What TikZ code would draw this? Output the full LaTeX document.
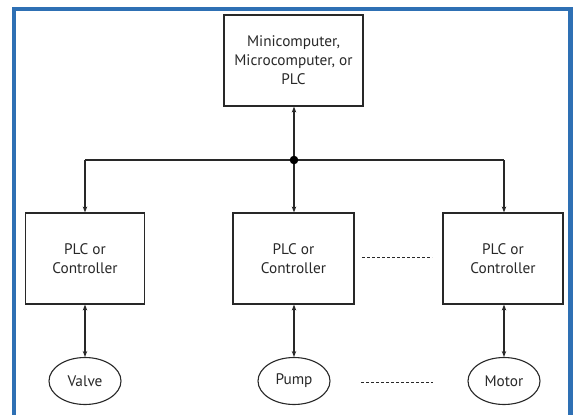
\documentclass[tikz,border=0pt]{standalone}
\usepackage{fontspec}
\setmainfont{PT Sans}
\usetikzlibrary{arrows.meta,shapes.geometric}
\definecolor{frameblue}{RGB}{46,112,180}
\definecolor{ink}{RGB}{40,40,40}
\begin{document}
\begin{tikzpicture}[x=1pt,y=-1pt,
  box/.style={draw=ink,line width=1.2pt,rectangle,inner sep=0pt,align=center,font=\fontsize{15.3}{19}\selectfont,text=ink},
  oval/.style={draw=ink,line width=1.1pt,ellipse,inner sep=0pt,minimum width=72pt,minimum height=47pt,font=\fontsize{15.3}{18}\selectfont,text=ink},
  conn/.style={draw=ink,line width=1.1pt},
  tip/.style={-{Stealth[length=6pt,width=4.5pt]}},
  dtip/.style={{Stealth[length=6pt,width=4.5pt]}-{Stealth[length=6pt,width=4.5pt]}},
  dots/.style={draw=ink,line width=1pt,dash pattern=on 3pt off 2pt}]
\useasboundingbox (0,0) rectangle (574,415);
\fill[white] (0,0) rectangle (574,415);
\begin{scope}
\clip (0,0) rectangle (574,415);
\draw[frameblue,line width=4.5pt] (14,9) rectangle (570.5,440);
\end{scope}
% nodes
\node[box,minimum width=139pt,minimum height=91pt] (top) at (293.5,60.5) {Minicomputer,\\Microcomputer, or\\PLC};
\node[box,minimum width=119pt,minimum height=91pt] (c1) at (85,258.5) {PLC or\\Controller};
\node[box,minimum width=121pt,minimum height=91pt] (c2) at (293.5,258.5) {PLC or\\Controller};
\node[box,minimum width=120pt,minimum height=91pt] (c3) at (503,258.5) {PLC or\\Controller};
\node[oval] (v) at (85,381) {Valve};
\node[oval] (p) at (294,381) {Pump};
\node[oval] (m) at (504,381) {Motor};
\coordinate (j) at (294,160);
\coordinate (jl) at (85,160);
\coordinate (jr) at (504,160);
% connectors
\draw[conn,tip] (j) -- (top.south -| j);
\draw[conn] (jl) -- (jr);
\draw[conn,tip] (jl) -- (c1.north -| jl);
\draw[conn,tip] (j) -- (c2.north -| j);
\draw[conn,tip] (jr) -- (c3.north -| jr);
\fill[black] (j) circle (4.3pt);
\draw[conn,dtip] (c1.south -| v) -- (v.north);
\draw[conn,dtip] (c2.south -| p) -- (p.north);
\draw[conn,dtip] (c3.south -| m) -- (m.north);
\coordinate (d1a) at (362,257);
\coordinate (d1b) at (432,257);
\coordinate (d2a) at (361,382);
\coordinate (d2b) at (433,382);
\draw[dots] (d1a) -- (d1b);
\draw[dots] (d2a) -- (d2b);
\end{tikzpicture}
\end{document}
